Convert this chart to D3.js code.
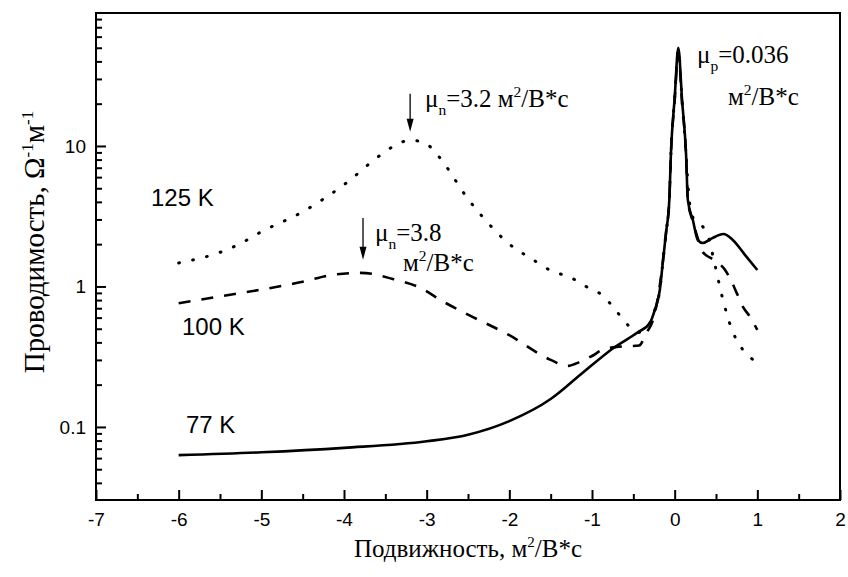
<!DOCTYPE html>
<html><head><meta charset="utf-8">
<script src="https://cdn.jsdelivr.net/npm/d3@7"></script>
<style>
body{margin:0;background:#fff;}
svg{display:block;}
</style></head>
<body>
<svg id="chart" width="848" height="577"></svg>
<script>
// ---- data ----
const xTicks = [-7,-6,-5,-4,-3,-2,-1,0,1,2];
const yTicks = [0.1,1,10];
const yTickLabels = ["0.1","1","10"];

const x77 = [-6,-5,-4,-3,-2.5,-2,-1.5,-1.145,-0.74,-0.45,-0.3,-0.24,-0.18,-0.14,-0.105,-0.065,-0.045,0,0.044,0.09,0.137,0.16,0.22,0.28,0.34,0.45,0.59,0.7,0.85,1];
const y77 = [0.063,0.066,0.071,0.079,0.088,0.11,0.158,0.234,0.365,0.47,0.55,0.68,0.94,1.55,2.4,4.1,8.9,22,50,21,8.9,4.1,2.97,2.14,2.04,2.2,2.36,2.15,1.68,1.31];

const x100 = [-6,-5.5,-5,-4.5,-4.17,-3.8,-3.36,-3.08,-2.8,-2.5,-2,-1.5,-1.3,-1.15,-1,-0.87,-0.72,-0.58,-0.43,-0.34,-0.27,-0.2,-0.14,-0.105,-0.065,-0.045,0,0.044,0.09,0.137,0.16,0.22,0.28,0.34,0.47,0.61,0.69,0.75,0.83,0.91,1];
const y100 = [0.76,0.85,0.95,1.08,1.2,1.25,1.11,0.98,0.78,0.63,0.45,0.3,0.272,0.29,0.32,0.355,0.37,0.375,0.38,0.47,0.56,0.85,1.55,2.4,4.1,8.9,21,46,20,8.9,4.1,2.9,2.2,1.76,1.55,1.31,1.08,0.9,0.71,0.61,0.49];

const x125 = [-6,-5.5,-5.29,-5,-4.5,-4,-3.56,-3.38,-3.2,-3.02,-2.86,-2.5,-2.2,-2,-1.75,-1.5,-1.25,-1.06,-0.88,-0.74,-0.6,-0.45,-0.3,-0.24,-0.18,-0.14,-0.105,-0.065,-0.045,0,0.044,0.09,0.137,0.17,0.22,0.37,0.43,0.47,0.51,0.55,0.59,0.64,0.7,0.79,0.95];
const y125 = [1.47,1.75,1.97,2.45,3.4,5.3,8.6,10.1,11.0,10.5,8.5,4.2,2.6,2.0,1.6,1.3,1.15,0.99,0.87,0.71,0.56,0.47,0.55,0.68,0.94,1.55,2.4,4.1,8.9,22,48,21,8.9,4.5,3.1,2.5,2.04,1.57,1.25,0.97,0.78,0.61,0.48,0.38,0.3];

const seriesNames = ["77 K","100 K","125 K"];
const arrowX = [-3.2,-3.77];
const arrowTop = [23.5,3.07];
const arrowTip = [12.6,1.55];

// ---- layout ----
const svg = d3.select("#chart");
const L=96,R=840,T=13,B=500;
const x = d3.scaleLinear().domain([-7,2]).range([L,R]);
const y = d3.scaleLog().domain([0.0302,88.4]).range([B,T]);

const sans = "Liberation Sans, Arial, sans-serif";
const serif = "Liberation Serif, Times New Roman, serif";

// minor ticks
const yMinor = [];
[0.01,0.1,1,10].forEach(d=>{for(let k=2;k<=9;k++){const v=+(d*k).toPrecision(3); if(v>0.0305&&v<88.4) yMinor.push(v);}});
const xMinor = d3.range(-6.5,2,1);

const gx = svg.append("g").attr("transform",`translate(0,${B})`)
  .call(d3.axisBottom(x).tickValues(xTicks).tickFormat(d=>String(d)).tickSize(-10).tickPadding(13));
const gxm = svg.append("g").attr("transform",`translate(0,${B})`)
  .call(d3.axisBottom(x).tickValues(xMinor).tickFormat("").tickSize(-6));
const gy = svg.append("g").attr("transform",`translate(${L},0)`)
  .call(d3.axisLeft(y).tickValues(yTicks).tickFormat((d,i)=>yTickLabels[i]).tickSize(-10).tickPadding(10));
const gym = svg.append("g").attr("transform",`translate(${L},0)`)
  .call(d3.axisLeft(y).tickValues(yMinor).tickFormat("").tickSize(-6));
[gx,gxm,gy,gym].forEach(g=>{
  g.select(".domain").remove();
  g.selectAll("line").attr("stroke","#000").attr("stroke-width",2);
  g.selectAll("text").attr("font-family",sans).attr("font-size",19).attr("fill","#000");
});

// frame
svg.append("rect").attr("x",L).attr("y",T).attr("width",R-L).attr("height",B-T)
  .attr("fill","none").attr("stroke","#000").attr("stroke-width",2);

// curves
const line = d3.line().x(d=>x(d[0])).y(d=>y(d[1])).curve(d3.curveMonotoneX);
const d77 = x77.map((v,i)=>[v,y77[i]]);
const d100 = x100.map((v,i)=>[v,y100[i]]);
const d125 = x125.map((v,i)=>[v,y125[i]]);
svg.append("path").datum(d125).attr("d",line).attr("fill","none").attr("stroke","#000")
  .attr("stroke-width",3).attr("stroke-linecap","round").attr("stroke-dasharray","0.8,13.5");
svg.append("path").datum(d100).attr("d",line).attr("fill","none").attr("stroke","#000")
  .attr("stroke-width",2.6).attr("stroke-dasharray","12,11");
svg.append("path").datum(d77).attr("d",line).attr("fill","none").attr("stroke","#000")
  .attr("stroke-width",2.6);

// series labels
const lab = [[186,433],[182,335],[151,206]];
seriesNames.forEach((n,i)=>{
  svg.append("text").attr("x",lab[i][0]).attr("y",lab[i][1]).text(n)
    .attr("font-family",sans).attr("font-size",24).attr("fill","#000");
});

// arrows
arrowX.forEach((v,i)=>{
  const ax=x(v), y0=y(arrowTop[i]), y1=y(arrowTip[i]);
  svg.append("line").attr("x1",ax).attr("x2",ax).attr("y1",y0).attr("y2",y1-6)
    .attr("stroke","#000").attr("stroke-width",1.3);
  svg.append("path").attr("d",`M${ax-3.5},${y1-13}L${ax+3.5},${y1-13}L${ax},${y1}Z`).attr("fill","#000");
});

// annotations
function mu(xp,yp,sub,rest,size){
  const t=svg.append("text").attr("x",xp).attr("y",yp).attr("font-family",serif).attr("font-size",size).attr("fill","#000");
  t.append("tspan").text("μ");
  t.append("tspan").attr("dy",size*0.3).attr("font-size",size*0.62).text(sub);
  t.append("tspan").attr("dy",-size*0.3).text(rest);
  return t;
}
function unit(t,size){
  t.append("tspan").text("м");
  t.append("tspan").attr("dy",-size*0.42).attr("font-size",size*0.62).text("2");
  t.append("tspan").attr("dy",size*0.42).text("/В*с");
}
const fs=25;
const t1 = mu(425,107,"n","=3.2 ",fs); unit(t1,fs);
mu(375,241,"n","=3.8",fs);
const t2 = svg.append("text").attr("x",403).attr("y",271).attr("font-family",serif).attr("font-size",fs).attr("fill","#000"); unit(t2,fs);
mu(697,63,"p","=0.036",fs);
const t3 = svg.append("text").attr("x",728).attr("y",105).attr("font-family",serif).attr("font-size",fs).attr("fill","#000"); unit(t3,fs);

// axis titles
const xt = svg.append("text").attr("x",468).attr("y",557).attr("text-anchor","middle")
  .attr("font-family",serif).attr("font-size",25).attr("fill","#000");
xt.append("tspan").text("Подвижность, м");
xt.append("tspan").attr("dy",-10).attr("font-size",15).text("2");
xt.append("tspan").attr("dy",10).text("/В*с");

const yt = svg.append("text").attr("transform","translate(44,242) rotate(-90)").attr("text-anchor","middle")
  .attr("font-family",serif).attr("font-size",29).attr("fill","#000");
yt.append("tspan").text("Проводимость, Ω");
yt.append("tspan").attr("dy",-11).attr("font-size",17).text("-1");
yt.append("tspan").attr("dy",11).text("м");
yt.append("tspan").attr("dy",-11).attr("font-size",17).text("-1");
</script>
</body></html>
